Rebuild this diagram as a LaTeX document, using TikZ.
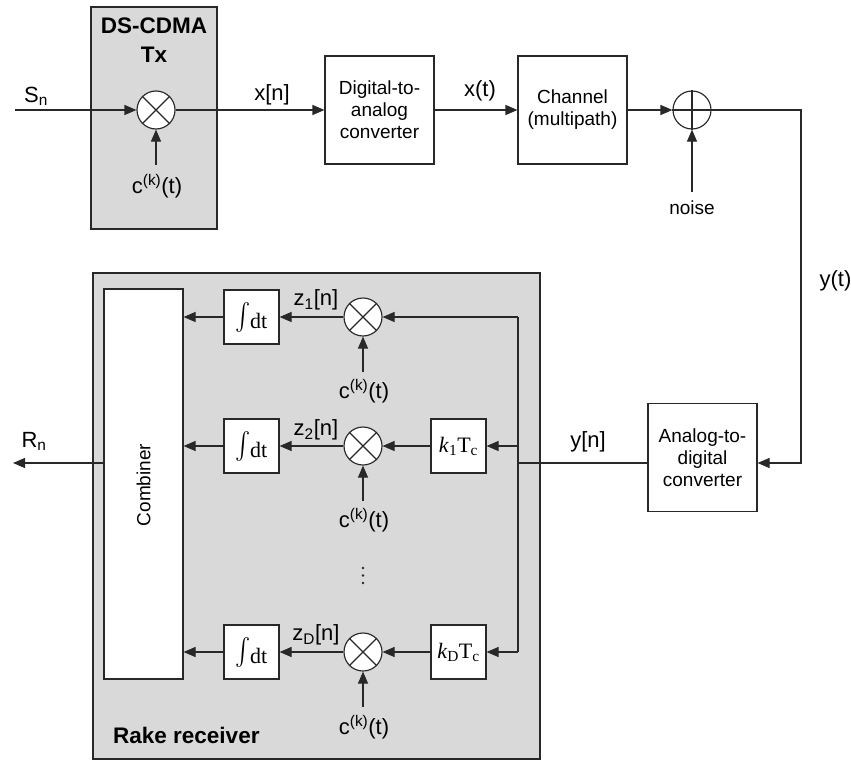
\documentclass[tikz,border=0pt]{standalone}
\usepackage{exscale}
\usepackage{fontspec}
\setmainfont{Liberation Sans}
\newfontfamily\serfam{Liberation Serif}
\usetikzlibrary{arrows.meta,calc}
\definecolor{shade}{RGB}{217,217,217}
\definecolor{ink}{RGB}{40,40,40}
\newcommand{\integ}{\raisebox{5pt}{\scalebox{1.1}[1.3]{$\int$}}\kern-1pt dt}
\begin{document}
\begin{tikzpicture}[x=1pt,y=-1pt,
  ln/.style={draw=ink,line width=1.15pt},
  arr/.style={ln,-{Triangle[length=12pt,width=10pt]}},
  blk/.style={draw=ink,line width=1.15pt,fill=white,minimum width=109pt,minimum height=108pt,align=center,inner sep=0pt,font=\fontsize{19}{22}\selectfont},
  sblk/.style={draw=ink,line width=1.15pt,fill=white,minimum width=55pt,minimum height=54pt,inner sep=0pt,font=\serfam\fontsize{22}{26}\selectfont},
  mult/.style={circle,draw=ink,line width=1.15pt,fill=white,minimum size=38pt,inner sep=0pt},
  lab/.style={font=\fontsize{22}{26}\selectfont,inner sep=0pt},
  smallab/.style={font=\fontsize{19}{22}\selectfont,inner sep=0pt},
  ttl/.style={font=\bfseries\fontsize{22.5}{29}\selectfont,align=center,inner sep=0pt},
  panel/.style={draw=ink,line width=1.15pt,fill=shade,inner sep=0pt}
]
\fill[white] (0,0) rectangle (851,760);
\useasboundingbox (0,0) rectangle (851,760);

% shaded panels
\node[panel,minimum width=126pt,minimum height=222pt] (tx) at (154,118) {};
\node[panel,minimum width=447pt,minimum height=486pt] (rake) at (316.5,516) {};
\node[ttl] (txt) at (154,40) {DS-CDMA\\Tx};
\node[ttl,anchor=base west] (rkt) at (113,743) {Rake receiver};

% transmitter chain
\coordinate (sin) at (15,110);
\node[mult] (mtx) at (156,110) {};
\draw[ln] (mtx.45)--(mtx.225) (mtx.135)--(mtx.315);
\node[lab] (sn) at (36,96) {S\textsubscript{n}};
\node[lab] (ctx) at (157,186) {c\textsuperscript{(k)}(t)};
\coordinate (ctxt) at (156,165);
\draw[arr] (sin) -- (mtx.west);
\draw[arr] (ctxt) -- (mtx.south);

\node[blk] (dac) at (379.5,110) {Digital-to-\\analog\\converter};
\node[lab] (xn) at (272,95) {x[n]};
\draw[arr] (mtx.east) -- (dac.west);

\node[blk] (ch) at (572.5,110) {Channel\\(multipath)};
\node[lab] (xt) at (480,91) {x(t)};
\draw[arr] (dac.east) -- (ch.west);

\node[mult] (add) at (692,110) {};
\draw[ln] (add.north)--(add.south) (add.east)--(add.west);
\draw[arr] (ch.east) -- (add.west);
\node[smallab] (nz) at (692,208) {noise};
\coordinate (nzt) at (692,192);
\draw[arr] (nzt) -- (add.south);

% to receiver
\coordinate (cr) at (801,110);
\coordinate (crb) at (801,463);
\node[lab] (yt) at (835.5,281) {y(t)};
\node[blk] (adc) at (702.5,457.5) {Analog-to-\\digital\\converter};
\draw[arr] (add.east) -- (cr) -- (crb) -- (crb -| adc.east);
\coordinate (bj) at (518,463);
\node[lab] (yn) at (588,442) {y[n]};
\draw[ln] (adc.west |- bj) -- (bj);

% bus
\coordinate (b1) at (518,317);
\coordinate (bD) at (518,652);
\draw[ln] (b1) -- (bD);

% combiner
\node[draw=ink,line width=1.15pt,fill=white,minimum width=79pt,minimum height=390pt,inner sep=0pt] (comb) at (143.5,484) {};
\node[smallab,rotate=90] (combt) at (143.5,485) {Combiner};

% row 1
\node[mult] (m1) at (363,317) {};
\draw[ln] (m1.45)--(m1.225) (m1.135)--(m1.315);
\node[sblk] (i1) at (251.5,317) {\integ};
\node[lab] (z1) at (316,300) {z\textsubscript{1}[n]};
\node[lab] (c1) at (364,391) {c\textsuperscript{(k)}(t)};
\coordinate (c1t) at (363,372);
\draw[arr] (b1) -- (m1.east);
\draw[arr] (m1.west) -- (i1.east);
\draw[arr] (i1.west) -- (i1.west -| comb.east);
\draw[arr] (c1t) -- (m1.south);

% row 2
\node[mult] (m2) at (363,446) {};
\draw[ln] (m2.45)--(m2.225) (m2.135)--(m2.315);
\node[sblk] (i2) at (251.5,446) {\integ};
\node[sblk] (d2) at (458.5,446) {\textit{k}\textsubscript{1}T\textsubscript{c}};
\node[lab] (z2) at (316,430) {z\textsubscript{2}[n]};
\node[lab] (c2) at (364,520) {c\textsuperscript{(k)}(t)};
\coordinate (c2t) at (363,501);
\draw[arr] (b1 |- d2) -- (d2.east);
\draw[arr] (d2.west) -- (m2.east);
\draw[arr] (m2.west) -- (i2.east);
\draw[arr] (i2.west) -- (i2.west -| comb.east);
\draw[arr] (c2t) -- (m2.south);

% dots
\fill[ink] (363,568) circle (1.4) (363,575.5) circle (1.4) (363,583) circle (1.4);

% row D
\node[mult] (mD) at (363,652) {};
\draw[ln] (mD.45)--(mD.225) (mD.135)--(mD.315);
\node[sblk] (iD) at (251.5,652) {\integ};
\node[sblk] (dD) at (458.5,652) {\textit{k}\textsubscript{D}T\textsubscript{c}};
\node[lab] (zD) at (316,635) {z\textsubscript{D}[n]};
\node[lab] (cD) at (364,727) {c\textsuperscript{(k)}(t)};
\coordinate (cDt) at (363,707);
\draw[arr] (bD) -- (dD.east);
\draw[arr] (dD.west) -- (mD.east);
\draw[arr] (mD.west) -- (iD.east);
\draw[arr] (iD.west) -- (iD.west -| comb.east);
\draw[arr] (cDt) -- (mD.south);

% output
\coordinate (rn) at (13,463);
\node[lab] (rnl) at (34,441) {R\textsubscript{n}};
\draw[arr] (comb.west |- bj) -- (rn);
\end{tikzpicture}
\end{document}
